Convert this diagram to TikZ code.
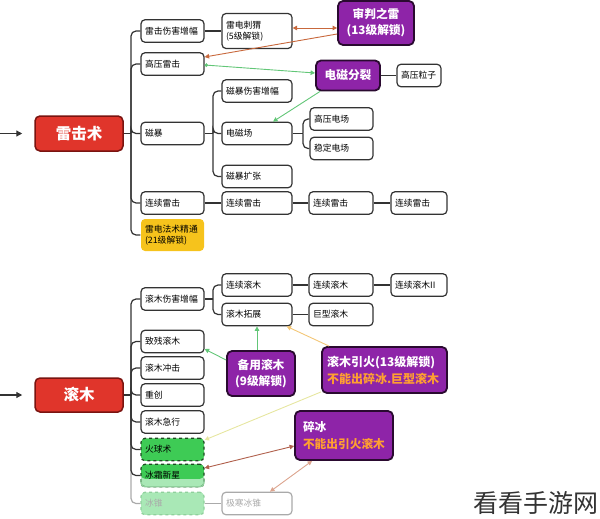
\documentclass[tikz,border=0pt]{standalone}
\usepackage{fontspec}
\newfontfamily\cjk{Noto Sans CJK SC}
\usetikzlibrary{arrows.meta}
\definecolor{dk}{HTML}{333333}
\definecolor{redf}{HTML}{E0352B}
\definecolor{redb}{HTML}{7A1410}
\definecolor{purf}{HTML}{8E24A8}
\definecolor{purb}{HTML}{2A0A30}
\definecolor{orgt}{HTML}{FFA030}
\definecolor{yelf}{HTML}{F6C31C}
\definecolor{grnf}{HTML}{3ECB55}
\definecolor{lgrn}{HTML}{A9E8B6}
\definecolor{lgrnb}{HTML}{8FD09C}
\definecolor{grnb}{HTML}{1E4A22}
\definecolor{arrG}{HTML}{62C677}
\definecolor{arrO}{HTML}{C8683C}
\definecolor{arrY}{HTML}{F3C676}
\definecolor{arrP}{HTML}{E6E6A0}
\definecolor{arrB}{HTML}{B0604C}
\definecolor{arrL}{HTML}{DCA48E}
\definecolor{gry}{HTML}{AAAAAA}
\begin{document}
\begin{tikzpicture}[x=1pt,y=-1pt,
 box/.style={draw=dk, line width=1.2pt, rounded corners=4pt, fill=white, font=\cjk\fontsize{8.8}{11}\selectfont, align=left, inner xsep=4pt, inner ysep=0pt, minimum height=22.5pt, text=black},
 w1/.style={box, minimum width=63pt, text width=55pt},
 w2/.style={box, minimum width=70pt, text width=62pt},
 w3/.style={box, minimum width=64pt, text width=56pt},
 w4/.style={box, minimum width=56pt, text width=48pt},
 root/.style={draw=redb, line width=1.5pt, rounded corners=5pt, fill=redf, text=white, font=\cjk\bfseries\fontsize{15.5}{18}\selectfont, minimum width=88pt, minimum height=35pt},
 pur/.style={draw=purb, line width=1.8pt, rounded corners=5pt, fill=purf, text=white, font=\cjk\bfseries\fontsize{11.7}{16}\selectfont, inner sep=0pt},
 conn/.style={draw=dk, line width=1.2pt},
 trunk/.style={conn, rounded corners=5pt},
 ar/.style={line width=0.9pt, -{Triangle[length=4.5pt,width=4.5pt]}},
 ar2/.style={line width=0.9pt, {Triangle[length=4.5pt,width=4.5pt]}-{Triangle[length=4.5pt,width=4.5pt]}}
]
\useasboundingbox (0,0) rectangle (600,519);

% ---------- top section ----------
\node[root] (lj) at (79,133.5) {雷击术};
\node[w1] (a1) at (172.5,31) {雷击伤害增幅};
\node[w1] (a2) at (172.5,64) {高压雷击};
\node[w1] (a3) at (172.5,133.5) {磁暴};
\node[w1] (a4) at (172.5,203) {连续雷击};
\node[w1, draw=none, fill=yelf, minimum height=32pt] (a5) at (172.5,235) {雷电法术精通\\(21级解锁)};
\node[w2, minimum height=35pt] (b1) at (257,31) {雷电刺猬\\(5级解锁)};
\node[w2] (b2) at (257,91) {磁暴伤害增幅};
\node[w2] (b3) at (257,133.5) {电磁场};
\node[w2] (b4) at (257,176.5) {磁暴扩张};
\node[w2] (b5) at (257,203) {连续雷击};
\node[pur, minimum width=76pt, minimum height=44pt, align=center] (c1) at (376,23) {审判之雷\\(13级解锁)};
\node[pur, minimum width=64pt, minimum height=30pt] (c2) at (348,75.5) {电磁分裂};
\node[box, minimum width=44pt, text width=36pt] (c3) at (419,75.5) {高压粒子};
\node[w1] (c4) at (341.5,119) {高压电场};
\node[w1] (c5) at (341.5,148.5) {稳定电场};
\node[w3] (c6) at (341,203) {连续雷击};
\node[w4] (d1) at (419,203) {连续雷击};

\coordinate (s1) at (0,133.5);
\coordinate (t1) at (131,133.5);
\coordinate (t2) at (213,133.5);
\coordinate (t3) at (303,133.5);
\draw[conn, -{Triangle[length=6pt,width=6pt]}] (s1) -- ([xshift=-12pt]lj.west);
\draw[conn] (lj) -- (t1);
\foreach \c in {a1,a2,a3,a4,a5} \draw[trunk] (t1) |- (\c.west);
\draw[conn] (a3) -- (t2);
\foreach \c in {b2,b3,b4} \draw[trunk] (t2) |- (\c.west);
\draw[conn] (b3) -- (t3);
\foreach \c in {c4,c5} \draw[trunk] (t3) |- (\c.west);
\draw[conn] (a1) -- (b1);
\draw[conn] (a4) -- (b5);
\draw[conn] (b5) -- (c6);
\draw[conn] (c6) -- (d1);
\draw[conn] (c2) -- (c3);

% arrows top
\draw[ar2, arrO] ([yshift=3pt]b1.east) -- ([yshift=-5pt]c1.west);
\draw[ar, arrO] ([yshift=-11pt]c1.west) -- ([yshift=7pt]a2.east);
\draw[line width=0.9pt, arrG, {Circle[length=3.5pt]}-{Triangle[length=4.5pt,width=4.5pt]}] ([yshift=-1pt]a2.east) -- ([yshift=2.5pt]c2.west);
\draw[ar, arrG] ([xshift=5pt]c2.south west) -- ([xshift=16pt]b3.north);

% ---------- bottom section ----------
\node[root, minimum height=34pt] (gm) at (79,395) {滚木};
\node[w1] (e1) at (172.5,299) {滚木伤害增幅};
\node[w1] (e2) at (172.5,341.5) {致残滚木};
\node[w1] (e3) at (172.5,368) {滚木冲击};
\node[w1] (e4) at (172.5,395) {重创};
\node[w1] (e5) at (172.5,422) {滚木急行};
\node[w1, fill=grnf, draw=grnb, dashed] (e6) at (172.5,449.5) {火球术};
\node[w1, fill=lgrn, draw=grnb, dashed, path picture={\fill[grnf] (path picture bounding box.north west) rectangle ([yshift=8pt]path picture bounding box.south east);}] (e7) at (172.5,475.5) {冰霜新星};
\begin{scope}
\clip ([xshift=-3pt,yshift=8pt]e7.south west) rectangle ([xshift=3pt,yshift=-3pt]e7.south east);
\draw[line width=1.4pt, lgrnb, rounded corners=4pt] ([xshift=0.6pt,yshift=-0.6pt]e7.north west) rectangle ([xshift=-0.6pt,yshift=0.6pt]e7.south east);
\end{scope}
\node[w1, fill=lgrn, draw=lgrnb, dashed, text=gry] (e8) at (172.5,503.5) {冰锥};
\node[w2] (f1) at (257,285) {连续滚木};
\node[w2] (f2) at (257,314.5) {滚木拓展};
\node[w2, draw=gry, text=gry] (f3) at (257,503.5) {极寒冰锥};
\node[w3] (g1) at (341,285) {连续滚木};
\node[w3] (g2) at (341,314.5) {巨型滚木};
\node[w4] (h1) at (419,285) {连续滚木II};
\node[pur, minimum width=68pt, minimum height=45pt, align=center] (p1) at (261,373.5) {备用滚木\\(9级解锁)};
\node[pur, minimum width=125pt, minimum height=46pt, align=left, text width=115pt, font=\cjk\bfseries\fontsize{12}{17}\selectfont] (p2) at (384.5,370) {滚木引火(13级解锁)\\\textcolor{orgt}{不能出碎冰.巨型滚木}};
\node[pur, minimum width=98pt, minimum height=49pt, align=left, text width=82pt, font=\cjk\bfseries\fontsize{11.7}{17}\selectfont] (p3) at (344,435.5) {碎冰\\\textcolor{orgt}{不能出引火滚木}};

\coordinate (s2) at (0,395);
\coordinate (t4) at (131,395);
\coordinate (t5) at (213,299);
\draw[conn, -{Triangle[length=6pt,width=6pt]}] (s2) -- ([xshift=-12pt]gm.west);
\draw[trunk, draw=gry] (t4) |- (e8.west);
\draw[conn] (gm) -- (t4);
\foreach \c in {e1,e2,e3,e4,e5,e6,e7} \draw[trunk] (t4) |- (\c.west);
\draw[conn] (e1) -- (t5);
\foreach \c in {f1,f2} \draw[trunk] (t5) |- (\c.west);
\draw[conn] (f1) -- (g1);
\draw[conn] (g1) -- (h1);
\draw[conn] (f2) -- (g2);
\draw[conn, draw=gry] (e8) -- (f3);

% arrows bottom
\draw[ar, arrG] (p1.north -| f2.south) -- (f2.south);
\draw[ar, arrG] ([yshift=13.5pt]p1.west) -- ([yshift=-7.5pt]e2.east);
\draw[ar, arrY] ([xshift=8pt]p2.north west) -- ([xshift=-6pt]f2.south east);
\draw[ar, arrP] ([yshift=2pt]p2.south west) -- ([yshift=9.5pt]e6.east);
\draw[ar2, arrB] ([yshift=-10.5pt]p3.west) -- ([yshift=7.5pt]e7.east);
\draw[ar2, arrL] ([xshift=18pt]p3.south west) -- ([xshift=13pt]f3.north);

\node[font=\cjk\fontsize{25}{25}\selectfont, text=black!80] (wm) at (536,503) {看看手游网};
\end{tikzpicture}
\end{document}
